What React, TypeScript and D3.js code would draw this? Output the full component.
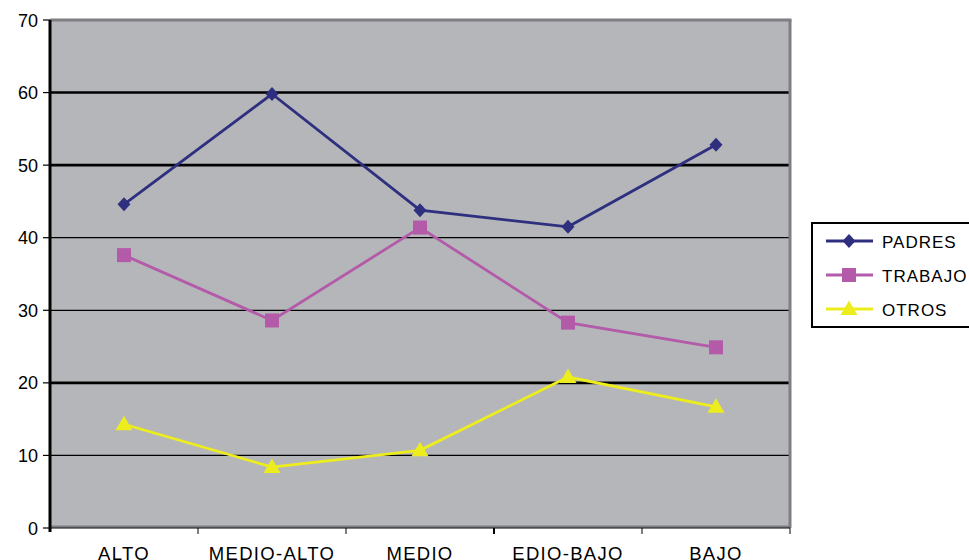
import React from "react";
import * as d3 from "d3";

const categories = ["ALTO", "MEDIO-ALTO", "MEDIO", "EDIO-BAJO", "BAJO"];
const padres = [44.6, 59.8, 43.8, 41.5, 52.8];
const trabajo = [37.6, 28.6, 41.4, 28.3, 24.9];
const otros = [14.3, 8.4, 10.7, 20.8, 16.7];
const yTicks = [0, 10, 20, 30, 40, 50, 60, 70];

const series = [
    {name: "PADRES", values: padres, color: "#2f2f7f", marker: "diamond"},
    {name: "TRABAJO", values: trabajo, color: "#b35aa9", marker: "square"},
    {name: "OTROS", values: otros, color: "#eded1e", marker: "triangle"},
];

const W = 969;
const H = 560;
const left = 50;
const right = 790;
const top = 20;
const bottom = 528;
const font = "'Liberation Sans', Arial, sans-serif";

function Marker({type, x, y, color}: {type: string; x: number; y: number; color: string}) {
    if (type === "diamond") {
        return <path d={`M${x},${y - 7}L${x + 6.5},${y}L${x},${y + 7}L${x - 6.5},${y}Z`} fill={color} />;
    }
    if (type === "square") {
        return <rect x={x - 7} y={y - 7} width={14} height={14} fill={color} />;
    }
    return <path d={`M${x},${y - 8.5}L${x + 8.5},${y + 6}L${x - 8.5},${y + 6}Z`} fill={color} />;
}

export default function App() {
    const x = d3.scaleBand().domain(categories).range([left, right]);
    const y = d3.scaleLinear().domain([0, 70]).range([bottom, top]);
    const cx = (c: string) => (x(c) || 0) + x.bandwidth() / 2;
    const line = d3
        .line<number>()
        .x((d, i) => cx(categories[i]))
        .y((d) => y(d));

    // some grid lines come out heavier in the original picture
    const heavy = [20, 50, 60];

    return (
        <svg
            width={W}
            height={H}
            style={{position: "absolute", left: 0, top: 0, background: "#fff"}}
        >
            <rect x={left} y={top} width={right - left} height={bottom - top} fill="#b5b6ba" />
            {yTicks
                .filter((t) => t > 0 && t < 70)
                .map((t) => (
                    <line
                        key={t}
                        x1={left}
                        x2={right}
                        y1={y(t)}
                        y2={y(t)}
                        stroke="#000"
                        strokeWidth={heavy.includes(t) ? 2.6 : 1.2}
                    />
                ))}
            {/* plot border */}
            <line x1={left} x2={right + 1.5} y1={top} y2={top} stroke="#7f7f83" strokeWidth={3} />
            <line x1={right} x2={right} y1={top} y2={bottom} stroke="#7f7f83" strokeWidth={3} />
            <line x1={left} x2={right} y1={bottom - 1.5} y2={bottom - 1.5} stroke="#7f7f83" strokeWidth={2} />
            {/* axes */}
            <line x1={left} x2={left} y1={top} y2={bottom + 4} stroke="#000" strokeWidth={3} />
            <line x1={left} x2={right} y1={bottom} y2={bottom} stroke="#000" strokeWidth={1.2} />
            {yTicks.map((t) => (
                <g key={t}>
                    <line x1={left - 7} x2={left} y1={y(t)} y2={y(t)} stroke="#000" strokeWidth={1.2} />
                    <text
                        x={left - 12}
                        y={y(t) + 6.5}
                        textAnchor="end"
                        fontFamily={font}
                        fontSize={18}
                        fill="#000"
                    >
                        {t}
                    </text>
                </g>
            ))}
            {categories.map((c, i) => (
                <g key={c}>
                    <line
                        x1={(x(c) || 0) + x.bandwidth()}
                        x2={(x(c) || 0) + x.bandwidth()}
                        y1={bottom}
                        y2={bottom + 6}
                        stroke="#000"
                        strokeWidth={i === 2 ? 2 : 1}
                    />
                    <text
                        x={cx(c)}
                        y={560}
                        textAnchor="middle"
                        fontFamily={font}
                        fontSize={18.5}
                        letterSpacing={1.3}
                        fill="#000"
                    >
                        {c}
                    </text>
                </g>
            ))}
            {series.map((s) => (
                <g key={s.name}>
                    <path d={line(s.values) || ""} fill="none" stroke={s.color} strokeWidth={2.8} />
                    {s.values.map((v, i) => (
                        <Marker key={i} type={s.marker} x={cx(categories[i])} y={y(v)} color={s.color} />
                    ))}
                </g>
            ))}
            {/* legend */}
            <rect x={812} y={223} width={170} height={104} fill="#fff" stroke="#000" strokeWidth={2} />
            {series.map((s, i) => {
                const ly = 241 + i * 34;
                return (
                    <g key={s.name}>
                        <line x1={826} x2={873} y1={ly} y2={ly} stroke={s.color} strokeWidth={2.8} />
                        <Marker type={s.marker} x={849} y={ly} color={s.color} />
                        <text
                            x={882}
                            y={ly + 6.5}
                            fontFamily={font}
                            fontSize={17}
                            letterSpacing={1}
                            fill="#000"
                        >
                            {s.name}
                        </text>
                    </g>
                );
            })}
        </svg>
    );
}
